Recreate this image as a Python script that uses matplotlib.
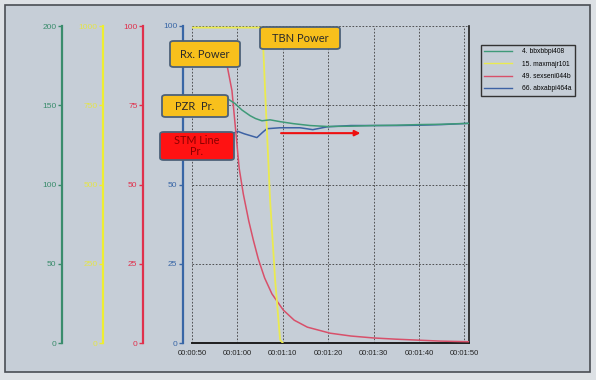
import matplotlib
matplotlib.use('Agg')
import matplotlib.pyplot as plt
from matplotlib.patches import FancyBboxPatch, Rectangle
from matplotlib.lines import Line2D

plt.rcParams['font.family'] = ['Liberation Sans', 'DejaVu Sans']

# --- readings from the trend (time in s) ---
x_ticks = [50, 60, 70, 80, 90, 100, 110]
x_labels = ['00:00:50', '00:01:00', '00:01:10', '00:01:20', '00:01:30', '00:01:40', '00:01:50']

green_ticks = [0, 50, 100, 150, 200]
yellow_ticks = [0, 250, 500, 750, 1000]
red_ticks = [0, 25, 50, 75, 100]
blue_ticks = [0, 25, 50, 75, 100]
blue_tick_labels = ['0', '25', '50', '', '100']   # 75 sits under the PZR box

# 4. bbxbbpi408 (green axis, 0-200)
t_green = [50, 57.5, 59.5, 61, 62.8, 64, 65.4, 67.2, 69.5, 72.3, 76, 79.8, 85, 90, 95, 100, 105, 111]
v_green = [154.8, 154.8, 151, 147, 143.4, 141.6, 140.2, 140.8, 139.6, 138.4, 137.2, 136.6,
           136.8, 137.2, 137.4, 137.8, 138, 138.6]

# 15. maxmajr101 (yellow axis, 0-1000)
t_yellow = [50, 65.5, 66.1, 67.2, 68.3, 69.4, 70]
v_yellow = [995, 995, 796, 450, 200, 10, 0]

# 49. sexseni044b (red axis, 0-100)
t_red = [50, 56.8, 57.8, 58.8, 60.4, 61.3, 62.5, 63.5, 64.6, 66, 67.6, 70.1, 72.5, 75.4,
         80.4, 85, 89.9, 95, 104.7, 111]
v_red = [92, 92, 87, 79.6, 55, 47, 38.5, 32.5, 26.5, 20.5, 15.5, 10.4, 7.2, 5.0,
         3.1, 2.2, 1.6, 1.2, 0.6, 0.4]

# 66. abxabpi464a (blue axis, 0-100)
t_blue = [50, 59.3, 60, 61.5, 64.3, 65.5, 66.5, 69.4, 73.8, 76.6, 79.8, 85, 90, 95, 100, 105, 111]
v_blue = [66.3, 66.3, 66.8, 66.0, 64.8, 66.4, 67.6, 67.9, 67.9, 67.3, 68.2, 68.6, 68.6, 68.6,
          68.7, 68.9, 69.3]

legend_labels = ['4. bbxbbpi408', '15. maxmajr101', '49. sexseni044b', '66. abxabpi464a']

bg = '#c6ced7'
c_green = '#3a8c6c'
c_yellow = '#eeee30'
c_red = '#e0304c'
c_blue = '#3866a6'
line_green = '#3f9a78'
line_yellow = '#eaea50'
line_red = '#d8506a'
line_blue = '#3d62a4'

W, H = 596, 380
fig = plt.figure(figsize=(W / 100, H / 100), dpi=100)
fig.patch.set_facecolor('#dde1e5')


def fx(px):
    return px / W


def fy(py):
    return 1 - py / H


# panel behind the trend
fig.add_artist(Rectangle((fx(5), fy(372)), (590 - 5) / W, (372 - 5) / H, transform=fig.transFigure,
                         facecolor=bg, edgecolor='#4a4e54', lw=1.2, zorder=-1))

L, R, T, B = 192, 469, 26, 343
ax = fig.add_axes([fx(L), fy(B), (R - L) / W, (B - T) / H])
ax.patch.set_visible(False)
ax.set_xlim(50, 111)
ax.set_ylim(0, 100)
ax.set_xticks(x_ticks)
ax.set_xticklabels(x_labels)
ax.set_yticks(blue_ticks)
ax.set_yticklabels(blue_tick_labels)
ax.spines['top'].set_visible(False)
ax.spines['left'].set_position(('axes', (183 - L) / (R - L)))
ax.spines['left'].set_color(c_blue)
ax.spines['left'].set_linewidth(1.6)
ax.spines['bottom'].set_color('#1e1e1e')
ax.spines['bottom'].set_linewidth(1.4)
ax.spines['right'].set_color('#1e1e1e')
ax.spines['right'].set_linewidth(1.2)
ax.tick_params(axis='y', colors=c_blue, labelsize=6, length=3, width=1, pad=1)
ax.tick_params(axis='x', length=0, labelsize=5.5, colors='#222222', pad=5)
ax.grid(True, linestyle=(0, (2, 2)), color='#3c3c3c', linewidth=0.6)


def side_axis(pos_px, color, label_color, top, ticks):
    a = ax.twinx()
    a.set_ylim(0, top)
    for s in ('top', 'right', 'bottom'):
        a.spines[s].set_visible(False)
    a.spines['left'].set_visible(True)
    a.spines['left'].set_position(('axes', (pos_px - L) / (R - L)))
    a.spines['left'].set_color(color)
    a.spines['left'].set_linewidth(1.6)
    a.yaxis.set_ticks_position('left')
    a.yaxis.set_label_position('left')
    a.set_yticks(ticks)
    a.tick_params(axis='y', colors=color, labelcolor=label_color, labelsize=6, length=3, width=1, pad=1)
    return a


ax_r = side_axis(143, c_red, c_red, 100, red_ticks)
ax_y = side_axis(103, c_yellow, '#e4e44a', 1000, yellow_ticks)
ax_g = side_axis(62, c_green, c_green, 200, green_ticks)

ax.plot(t_blue, v_blue, color=line_blue, lw=1.1)
ax_r.plot(t_red, v_red, color=line_red, lw=1.1)
ax_y.plot(t_yellow, v_yellow, color=line_yellow, lw=1.3)
ax_g.plot(t_green, v_green, color=line_green, lw=1.1)

handles = [Line2D([], [], color=c, lw=1) for c in (line_green, line_yellow, line_red, line_blue)]
fig.legend(handles, legend_labels, loc='upper left', bbox_to_anchor=(fx(481), fy(45)),
           frameon=True, fancybox=False, edgecolor='#333333', facecolor=bg, framealpha=1,
           fontsize=4.8, handlelength=4.2, handletextpad=1.4, labelspacing=0.8,
           borderpad=0.5, borderaxespad=0)


def label_box(x0, y0, x1, y1, text, face, tcolor, fs, spacing=1.0):
    box = FancyBboxPatch((fx(x0), fy(y1)), (x1 - x0) / W, (y1 - y0) / H,
                         boxstyle='round,pad=0,rounding_size=0.006', transform=fig.transFigure,
                         facecolor=face, edgecolor='#4d6178', lw=1.3, zorder=5)
    fig.add_artist(box)
    fig.text(fx((x0 + x1) / 2), fy((y0 + y1) / 2), text, ha='center', va='center', color=tcolor,
             fontsize=fs, family=['Lato', 'DejaVu Sans'], linespacing=spacing, zorder=6)


label_box(170, 41, 240, 67, 'Rx. Power', '#f8c01c', '#2a2a2a', 8)
label_box(260, 27, 340, 49, 'TBN Power', '#f8c01c', '#2a2a2a', 8)
label_box(162, 95, 228, 117, 'PZR  Pr.', '#f8c01c', '#2a2a2a', 8)
label_box(160, 132, 234, 160, 'STM Line\nPr.', '#ff1212', '#8a0000', 7.8, spacing=1.05)

ax.annotate('', xy=(87.7, 66.2), xytext=(69, 66.2),
            arrowprops=dict(arrowstyle='-|>', color='#ee1010', lw=1.5, mutation_scale=8))

fig.savefig('out.png', dpi=100, facecolor=fig.get_facecolor())
